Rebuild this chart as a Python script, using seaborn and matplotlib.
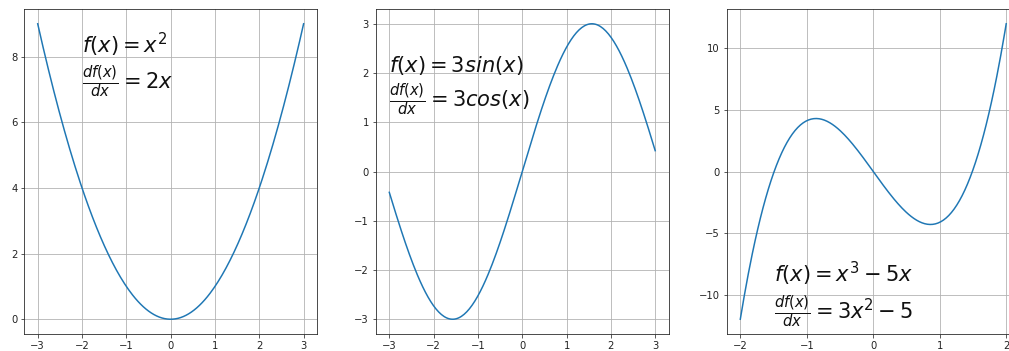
import numpy as np
import matplotlib
matplotlib.use("Agg")
import matplotlib.pyplot as plt
from matplotlib.ticker import MultipleLocator
import seaborn as sns

# Domains for each panel (as shown on the x axes)
x_range_sq = [-3, 3]
x_range_sin = [-3, 3]
x_range_cubic = [-2, 2]
# The cubic curve in the reference is x^3-5x evaluated over [-3, 3],
# drawn against the [-2, 2] axis
u_range_cubic = [-3, 3]

# Annotation texts
labels = [
    r"$f(x)=x^2$" + "\n" + r"$\frac{df(x)}{dx}=2x$",
    r"$f(x)=3sin(x)$" + "\n" + r"$\frac{df(x)}{dx}=3cos(x)$",
    r"$f(x)=x^3-5x$" + "\n" + r"$\frac{df(x)}{dx}=3x^2-5$",
]
label_pos = [(-2, 7), (-3, 1.3), (-1.5, -12)]

n = 200
x_sq = np.linspace(x_range_sq[0], x_range_sq[1], n)
y_sq = x_sq ** 2
x_sin = np.linspace(x_range_sin[0], x_range_sin[1], n)
y_sin = 3 * np.sin(x_sin)
x_cub = np.linspace(x_range_cubic[0], x_range_cubic[1], n)
u_cub = np.linspace(u_range_cubic[0], u_range_cubic[1], n)
y_cub = u_cub ** 3 - 5 * u_cub

plt.rcParams["font.family"] = ["DejaVu Sans"]
plt.rcParams["mathtext.fontset"] = "dejavusans"

fig = plt.figure(figsize=(1009 / 72, 351 / 72), dpi=72)
W, H = 1009, 351
bottom = (H - 334) / H
height = 325 / H
width = 292.5 / W
lefts = [24.4 / W, 376 / W, 727 / W]
series = [(x_sq, y_sq), (x_sin, y_sin), (x_cub, y_cub)]

for i, (xs, ys) in enumerate(series):
    ax = fig.add_axes([lefts[i], bottom, width, height])
    sns.lineplot(x=xs, y=ys, ax=ax, color="#1f77b4", linewidth=1.5)
    ax.xaxis.set_major_locator(MultipleLocator(1))
    ax.grid(True, color="#b0b0b0", linewidth=0.8)
    ax.set_axisbelow(True)
    ax.tick_params(labelsize=10, colors="#333333", labelcolor="#222222")
    for s in ax.spines.values():
        s.set_color("#222222")
    tx, ty = label_pos[i]
    ax.text(tx, ty, labels[i], fontsize=21, color="#111111")

fig.savefig("out.png", dpi=72)
